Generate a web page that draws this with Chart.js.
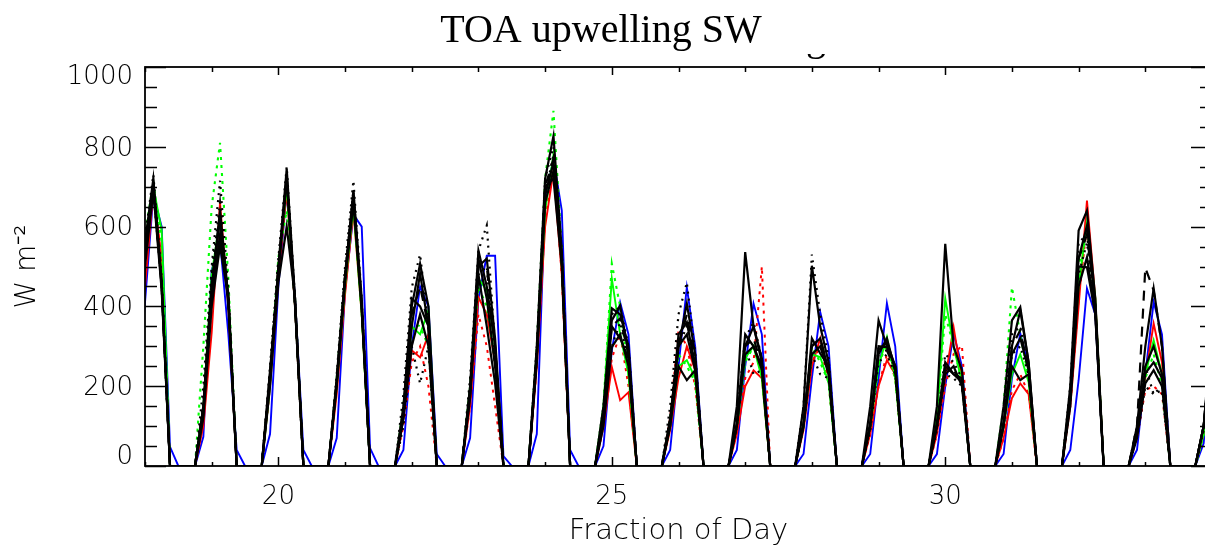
<!DOCTYPE html>
<html>
<head>
<meta charset="utf-8">
<script src="https://cdn.jsdelivr.net/npm/chart.js@4.4.1/dist/chart.umd.min.js"></script>
<style>
html,body{margin:0;padding:0;background:#fff;overflow:hidden;}
#wrap{position:relative;width:1216px;height:552px;}
</style>
</head>
<body>
<div id="wrap"><canvas id="c"></canvas></div>
<script>
// ---------- DATA ----------
const titleText = 'TOA upwelling SW';
const xTitle = 'Fraction of Day';
const yTitle = 'W m\u207B\u00B2';
const days = [18,19,20,21,22,23,24,25,26,27,28,29,30,31,32,33,34];
// 3-hourly sample times relative to each day
const stepOffsets = [-0.25,-0.125,0,0.125,0.25,0.375,0.5];
const xTickValues = [20,25,30];
const yTickValues = [0,200,400,600,800,1000];

const blueObs = [
 [0,150,410,680,600,48,0],[0,73,490,565,330,40,0],[0,80,450,690,420,40,0],[0,70,440,630,600,45,0],
 [0,40,300,450,400,30,0],[0,70,420,527,527,25,0],[0,80,665,770,640,40,0],[0,50,290,410,330,0,0],
 [0,40,250,448,300,0,0],[0,40,250,407,330,0,0],[0,30,220,386,300,0,0],[0,30,220,408,300,0,0],
 [0,30,200,332,250,0,0],[0,30,220,332,250,0,0],[0,40,215,445,380,0,0],[0,40,230,411,330,0,0],
 [0,57,300,500,400,0,0]];
const redSolid = [
 [0,200,450,690,520,0,0],[0,100,335,660,400,0,0],[0,200,470,690,400,0,0],[0,180,430,640,380,0,0],
 [0,120,290,272,330,0,0],[0,150,423,380,260,0,0],[0,250,600,740,480,0,0],[0,100,248,165,185,0,0],
 [0,90,220,300,240,0,0],[0,80,200,240,220,0,0],[0,90,250,320,230,0,0],[0,80,200,265,230,0,0],
 [0,80,220,348,220,0,0],[0,70,170,207,180,0,0],[0,150,400,665,420,0,0],[0,80,220,357,260,0,0],
 [0,80,300,500,400,0,0]];
const redDotted = [
 [0,200,480,700,500,0,0],[0,120,400,640,420,0,0],[0,200,500,710,400,0,0],[0,200,450,650,400,0,0],
 [0,100,260,300,200,0,0],[0,150,380,300,150,0,0],[0,250,620,760,480,0,0],[0,100,270,330,200,0,0],
 [0,120,340,300,200,0,0],[0,100,220,260,500,0,0],[0,100,260,300,210,0,0],[0,80,200,280,220,0,0],
 [0,80,200,280,302,0,0],[0,70,190,230,180,0,0],[0,150,420,600,400,0,0],[0,70,190,200,180,0,0],
 [0,80,300,500,400,0,0]];
const greenSolid = [
 [0,250,560,700,590,0,0],[0,150,480,620,420,0,0],[0,200,500,700,400,0,0],[0,200,450,650,380,0,0],
 [0,130,350,330,390,0,0],[0,200,470,440,300,0,0],[0,280,640,780,500,0,0],[0,150,470,330,230,0,0],
 [0,100,250,265,220,0,0],[0,100,270,300,220,0,0],[0,100,280,273,210,0,0],[0,100,250,323,220,0,0],
 [0,120,420,300,210,0,0],[0,100,230,280,210,0,0],[0,180,450,611,420,0,0],[0,80,230,315,230,0,0],
 [0,80,300,500,400,0,0]];
const greenDotted = [
 [0,250,580,710,560,0,0],[0,300,650,810,470,0,0],[0,220,523,640,420,0,0],[0,220,480,660,380,0,0],
 [0,150,360,350,300,0,0],[0,200,450,400,260,0,0],[0,300,720,890,540,0,0],[0,150,507,400,230,0,0],
 [0,120,280,250,210,0,0],[0,100,260,300,230,0,0],[0,100,300,260,210,0,0],[0,100,260,300,220,0,0],
 [0,120,380,300,210,0,0],[0,150,448,330,220,0,0],[0,180,500,600,400,0,0],[0,80,220,280,200,0,0],
 [0,80,300,500,400,0,0]];
const blackA = [
 [0,250,560,720,460,0,0],[0,150,440,640,420,0,0],[0,240,480,720,400,0,0],[0,220,480,680,420,0,0],
 [0,150,400,507,400,0,0],[0,200,540,450,300,0,0],[0,300,720,827,540,0,0],[0,150,395,380,300,0,0],
 [0,120,300,407,280,0,0],[0,150,536,350,260,0,0],[0,150,502,350,260,0,0],[0,150,365,300,250,0,0],
 [0,150,557,300,240,0,0],[0,150,365,398,260,0,0],[0,200,590,640,420,0,0],[0,100,300,445,300,0,0],
 [0,100,350,550,400,0,0]];
const blackB = [
 [0,230,520,700,460,0,0],[0,120,400,552,420,0,0],[0,220,500,745,420,0,0],[0,200,460,660,400,0,0],
 [0,120,350,482,350,0,0],[0,180,500,520,320,0,0],[0,280,680,760,520,0,0],[0,120,365,402,280,0,0],
 [0,100,330,360,250,0,0],[0,100,300,350,270,0,0],[0,100,320,282,250,0,0],[0,100,300,298,250,0,0],
 [0,100,260,230,220,0,0],[0,100,300,390,260,0,0],[0,180,520,602,400,0,0],[0,80,232,260,220,0,0],
 [0,100,320,500,400,0,0]];
const blackC = [
 [0,220,500,690,440,0,0],[0,130,420,580,430,0,0],[0,200,460,600,420,0,0],[0,210,470,670,390,0,0],
 [0,120,300,380,300,0,0],[0,170,480,350,207,0,0],[0,260,660,740,520,0,0],[0,100,298,330,250,0,0],
 [0,100,250,215,240,0,0],[0,100,280,300,250,0,0],[0,100,280,300,230,0,0],[0,100,280,320,240,0,0],
 [0,100,230,250,200,0,0],[0,100,250,215,230,0,0],[0,150,450,523,380,0,0],[0,70,207,240,200,0,0],
 [0,100,300,480,400,0,0]];
const blackD = [
 [0,240,540,710,450,0,0],[0,140,450,620,400,0,0],[0,230,490,730,410,0,0],[0,210,470,690,400,0,0],
 [0,140,420,400,350,0,0],[0,190,520,420,250,0,0],[0,270,700,720,500,0,0],[0,130,350,320,270,0,0],
 [0,110,300,330,240,0,0],[0,110,330,300,240,0,0],[0,110,300,320,240,0,0],[0,110,290,310,250,0,0],
 [0,110,250,230,210,0,0],[0,110,280,320,240,0,0],[0,170,500,498,380,0,0],[0,80,250,300,230,0,0],
 [0,100,320,500,400,0,0]];
const blackDottedA = [
 [0,260,570,730,470,0,0],[0,200,500,715,440,0,0],[0,250,520,750,420,0,0],[0,230,500,715,420,0,0],
 [0,180,447,530,350,0,0],[0,220,540,603,300,0,0],[0,300,720,800,540,0,0],[0,150,380,400,300,0,0],
 [0,150,380,460,280,0,0],[0,120,320,360,270,0,0],[0,150,530,380,270,0,0],[0,100,300,300,240,0,0],
 [0,100,280,260,220,0,0],[0,130,330,350,240,0,0],[0,200,560,580,400,0,0],[0,100,250,180,200,0,0],
 [0,100,350,520,400,0,0]];
const blackDottedB = [
 [0,230,530,690,450,0,0],[0,160,480,660,420,0,0],[0,230,500,720,400,0,0],[0,210,480,690,400,0,0],
 [0,100,300,207,300,0,0],[0,200,480,500,250,0,0],[0,280,680,780,520,0,0],[0,120,300,360,260,0,0],
 [0,120,300,350,260,0,0],[0,100,300,230,240,0,0],[0,100,280,230,220,0,0],[0,90,260,280,230,0,0],
 [0,90,230,220,200,0,0],[0,100,280,300,230,0,0],[0,160,480,560,390,0,0],[0,70,200,180,190,0,0],
 [0,90,300,480,400,0,0]];
const blackDashed = [
 [0,240,550,700,450,0,0],[0,150,460,630,410,0,0],[0,230,500,720,400,0,0],[0,210,470,680,400,0,0],
 [0,130,380,450,350,0,0],[0,180,500,500,300,0,0],[0,280,700,770,520,0,0],[0,130,350,370,280,0,0],
 [0,110,300,380,260,0,0],[0,100,300,320,250,0,0],[0,110,300,320,240,0,0],[0,100,280,290,240,0,0],
 [0,100,240,240,210,0,0],[0,110,300,340,240,0,0],[0,170,520,580,400,0,0],[0,100,497,440,300,0,0],
 [0,100,330,500,400,0,0]];

// ---------- BUILD ----------
function toPoints(rows){
  const pts=[];
  rows.forEach((row,i)=>row.forEach((v,j)=>pts.push({x:days[i]+stepOffsets[j],y:v})));
  return pts;
}
function ds(label,rows,color,width,dash,order){
  return {label,data:toPoints(rows),borderColor:color,borderWidth:width,borderDash:dash,
    pointRadius:0,tension:0,fill:false,order,borderJoinStyle:'miter'};
}
const datasets = [
  ds('Blue',blueObs,'#0000ff',1.9,[],12),
  ds('Red',redSolid,'#ff0000',1.9,[],11),
  ds('Red dotted',redDotted,'#ff0000',2,[3,5],10),
  ds('Green',greenSolid,'#00ff00',1.9,[],9),
  ds('Green dotted',greenDotted,'#00ff00',2.1,[3,5],8),
  ds('Black A',blackA,'#000000',2.2,[],1),
  ds('Black B',blackB,'#000000',2.2,[],2),
  ds('Black C',blackC,'#000000',2.2,[],3),
  ds('Black D',blackD,'#000000',2.2,[],4),
  ds('Black dotted A',blackDottedA,'#000000',2.2,[2,5],5),
  ds('Black dotted B',blackDottedB,'#000000',2.2,[2,5],6),
  ds('Black dashed',blackDashed,'#000000',2.2,[10,8],7)
];

const sans = "'DejaVu Sans', sans-serif";
const framePlugin = {
  id:'frame',
  afterDatasetsDraw(chart){
    const {ctx, chartArea:a, scales:{x,y}} = chart;
    ctx.save();
    ctx.strokeStyle='#000'; ctx.lineWidth=1.8;
    ctx.strokeRect(a.left,a.top,a.right-a.left,a.bottom-a.top);
    ctx.lineWidth=1.5;
    ctx.beginPath();
    for(let v=0; v<=1000; v+=50){
      const p=Math.round(y.getPixelForValue(v))+0.5;
      const L = (v%200===0)?21:12;
      ctx.moveTo(a.left,p); ctx.lineTo(a.left+L,p);
      ctx.moveTo(a.right,p); ctx.lineTo(a.right-L,p);
    }
    for(let d=18; d<=34; d+=1){
      const p=Math.round(x.getPixelForValue(d))+0.5;
      const Lt = (d%5===0)?8:5, Lb=(d%5===0)?9:4;
      ctx.moveTo(p,a.top); ctx.lineTo(p,a.top+Lt);
      ctx.moveTo(p,a.bottom); ctx.lineTo(p,a.bottom-Lb);
    }
    ctx.stroke();
    // y tick labels
    ctx.fillStyle='#000';
    ctx.font = "200 26px "+sans;
    ctx.textAlign='right'; ctx.textBaseline='middle';
    yTickValues.forEach(v=>{
      let p=y.getPixelForValue(v)+2;
      p=Math.max(a.top+10.5,Math.min(a.bottom-8.5,p));
      ctx.fillText(String(v),a.left-12,p);
    });
    // title
    ctx.font = "40px 'Liberation Serif', 'Times New Roman', serif";
    ctx.textAlign='center'; ctx.textBaseline='alphabetic';
    ctx.fillText(titleText,601,42);
    // clipped descender fragment of hidden subtitle
    ctx.save();
    ctx.beginPath(); ctx.rect(800,54,30,10); ctx.clip();
    ctx.font = "40px 'Liberation Serif', serif";
    ctx.textAlign='left';
    ctx.fillText('g',806,50);
    ctx.restore();
    ctx.restore();
  }
};

new Chart(document.getElementById('c'),{
  type:'line',
  data:{datasets},
  options:{
    responsive:true, maintainAspectRatio:false, animation:false,
    layout:{padding:{top:67,right:4,bottom:0,left:0}},
    plugins:{legend:{display:false},tooltip:{enabled:false},title:{display:false}},
    scales:{
      x:{type:'linear',min:18,max:34,
        grid:{display:false,drawTicks:false},border:{display:false},
        afterBuildTicks(s){ s.ticks = xTickValues.map(v=>({value:v})); },
        afterFit(s){ s.height = 86; },
        ticks:{color:'#000',padding:16,maxRotation:0,font:{family:sans,size:26,weight:'200'}},
        title:{display:true,text:xTitle,color:'#000',font:{family:sans,size:29,weight:'200'},padding:{top:0,bottom:3}}
      },
      y:{type:'linear',min:0,max:1000,
        grid:{display:false,drawTicks:false},border:{display:false},
        afterBuildTicks(s){ s.ticks = yTickValues.map(v=>({value:v})); },
        afterFit(s){ s.width = 145; },
        ticks:{display:false},
        title:{display:true,text:yTitle,color:'#000',font:{family:sans,size:28,weight:'200'},padding:{top:11,bottom:0}}
      }
    }
  },
  plugins:[framePlugin]
});
</script>
</body>
</html>
